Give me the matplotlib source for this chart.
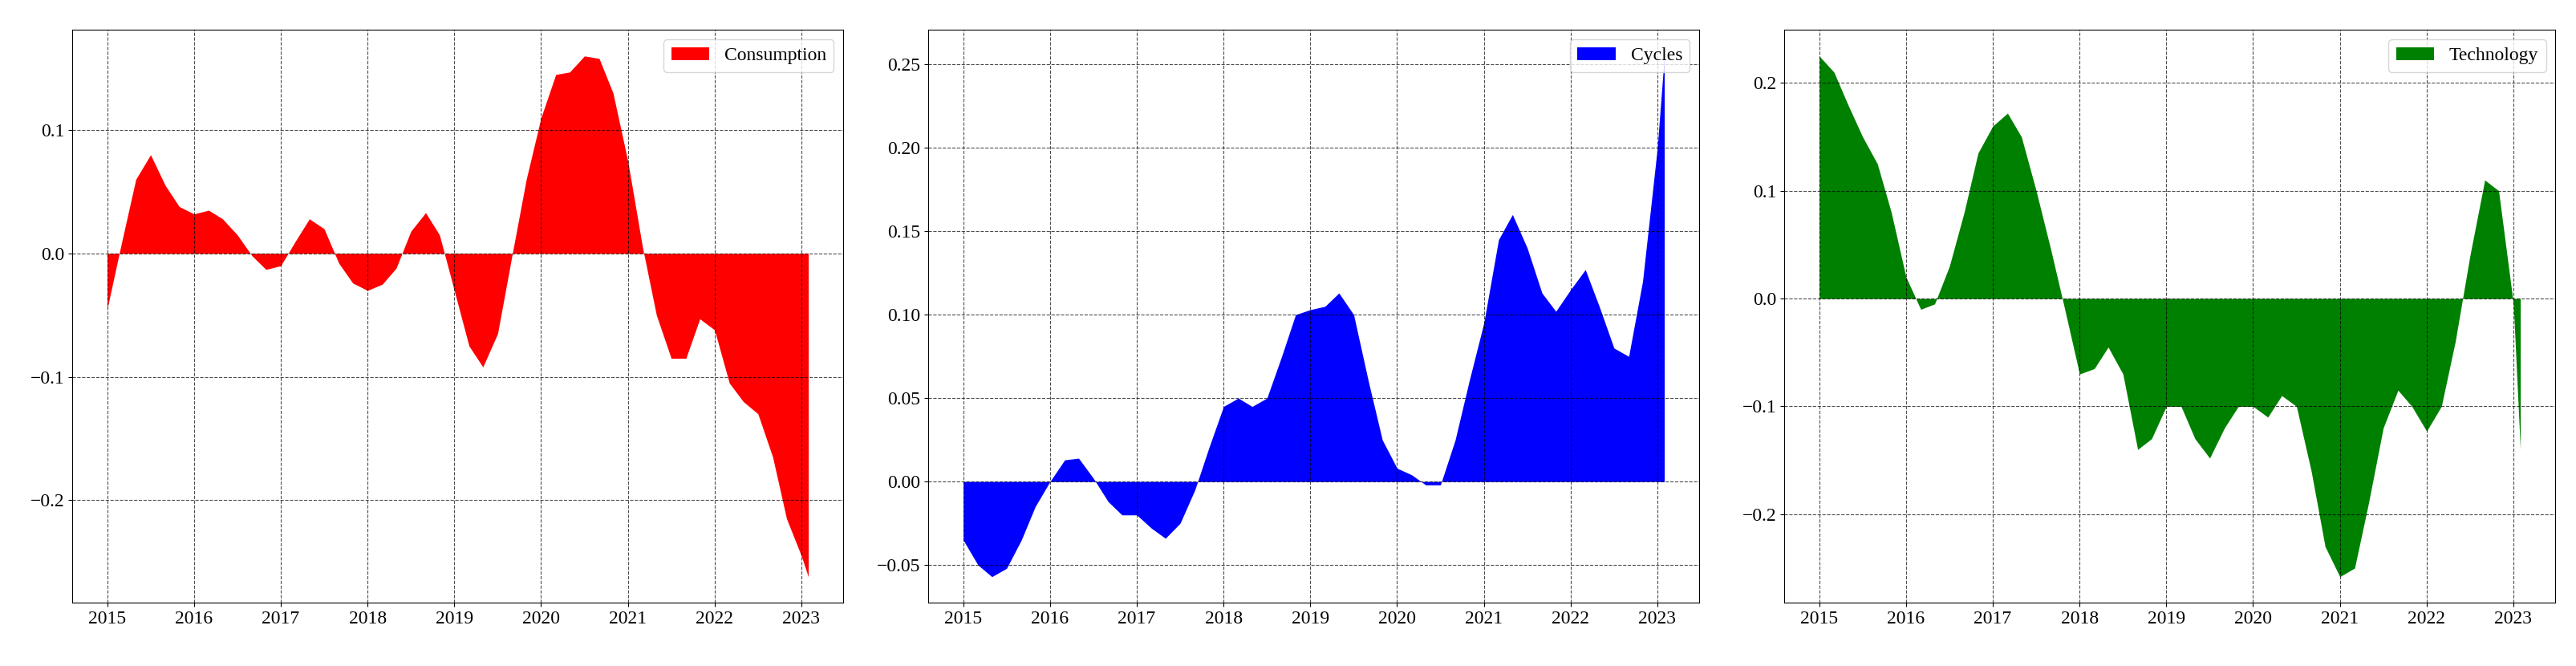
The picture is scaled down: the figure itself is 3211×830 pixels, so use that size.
import matplotlib
matplotlib.use("Agg")
import matplotlib.pyplot as plt

plt.rcParams['font.family'] = ['Liberation Serif', 'DejaVu Serif']
plt.rcParams['font.size'] = 17

years = [2015.0, 2015.17, 2015.33, 2015.5, 2015.67, 2015.83,
         2016.0, 2016.17, 2016.33, 2016.5, 2016.67, 2016.83,
         2017.0, 2017.17, 2017.33, 2017.5, 2017.67, 2017.83,
         2018.0, 2018.17, 2018.33, 2018.5, 2018.67, 2018.83,
         2019.0, 2019.17, 2019.33, 2019.5, 2019.67, 2019.83,
         2020.0, 2020.17, 2020.33, 2020.5, 2020.67, 2020.83,
         2021.0, 2021.17, 2021.33, 2021.5, 2021.67, 2021.83,
         2022.0, 2022.17, 2022.33, 2022.5, 2022.67, 2022.83,
         2023.0, 2023.08]

consumption = [-0.045, 0.01, 0.06, 0.08, 0.055, 0.038,
               0.032, 0.035, 0.028, 0.015, -0.002, -0.013,
               -0.01, 0.01, 0.028, 0.02, -0.008, -0.024,
               -0.03, -0.025, -0.012, 0.018, 0.033, 0.015,
               -0.03, -0.075, -0.092, -0.065, 0.0, 0.06,
               0.11, 0.145, 0.147, 0.16, 0.158, 0.13,
               0.075, 0.005, -0.05, -0.085, -0.085, -0.053,
               -0.062, -0.105, -0.12, -0.13, -0.165, -0.215,
               -0.245, -0.262]

cycles = [-0.035, -0.05, -0.057, -0.052, -0.035, -0.015,
          0.0, 0.013, 0.014, 0.002, -0.012, -0.02,
          -0.02, -0.028, -0.034, -0.025, -0.005, 0.02,
          0.045, 0.05, 0.045, 0.05, 0.075, 0.1,
          0.103, 0.105, 0.113, 0.1, 0.06, 0.025,
          0.008, 0.004, -0.002, -0.002, 0.025, 0.06,
          0.095, 0.145, 0.16, 0.14, 0.113, 0.102,
          0.115, 0.127, 0.105, 0.08, 0.075, 0.12,
          0.2, 0.255]

technology = [0.225, 0.21, 0.18, 0.15, 0.125, 0.08,
              0.02, -0.01, -0.005, 0.03, 0.08, 0.135,
              0.16, 0.172, 0.15, 0.1, 0.045, -0.01,
              -0.07, -0.065, -0.045, -0.07, -0.14, -0.13,
              -0.1, -0.1, -0.13, -0.148, -0.12, -0.1,
              -0.1, -0.11, -0.09, -0.1, -0.16, -0.23,
              -0.258, -0.25, -0.19, -0.12, -0.085, -0.1,
              -0.123, -0.1, -0.04, 0.04, 0.11, 0.1,
              -0.005, -0.14]

series = [("Consumption", consumption, "red"),
          ("Cycles", cycles, "blue"),
          ("Technology", technology, "green")]

fig, axes = plt.subplots(1, 3, figsize=(32.11, 8.3), dpi=100)
fig.subplots_adjust(left=0.028, right=0.992, top=0.955, bottom=0.095, wspace=0.11)

for ax, (name, vals, col) in zip(axes, series):
    ax.fill_between(years, 0, vals, color=col, label=name, linewidth=0)
    ax.set_xticks(range(2015, 2024))
    ax.grid(True, linestyle='--', color='k', alpha=0.7)
    ax.legend(loc='upper right')

plt.savefig("out.png")
